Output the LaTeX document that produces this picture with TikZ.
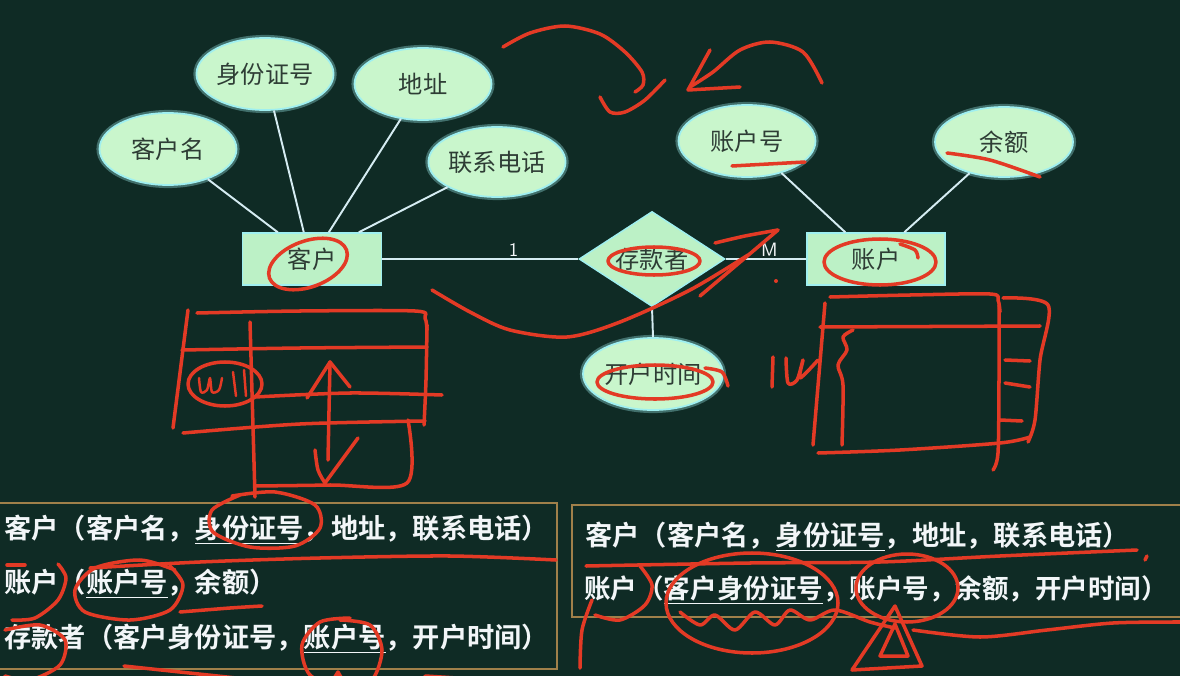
\documentclass[tikz,border=0pt]{standalone}
\usepackage{fontspec}
\usetikzlibrary{shapes.geometric,calc}
\newfontfamily\cjk{Noto Sans CJK SC}[BoldFont={Noto Sans CJK SC Bold}]
\definecolor{bgc}{HTML}{0F2B25}
\definecolor{attrfill}{HTML}{C9F6CC}
\definecolor{entfill}{HTML}{BCF1C6}
\definecolor{darktxt}{HTML}{2E3D35}
\definecolor{linec}{HTML}{D5ECF2}
\definecolor{glowc}{HTML}{9FEFF0}
\definecolor{boxc}{HTML}{A0804A}
\definecolor{scr}{HTML}{E33A25}
\definecolor{wtxt}{HTML}{F2F6F8}
\def\px{0.02cm}
\tikzset{
  attr/.style={ellipse, fill=attrfill, draw=glowc, line width=1pt,
    preaction={draw=glowc, line width=3.5pt, opacity=0.35},
    inner sep=0pt, text=darktxt, font=\cjk\fontsize{13.8pt}{16pt}\selectfont},
  ent/.style={rectangle, fill=entfill, draw=glowc, line width=0.8pt, inner sep=0pt,
    text=darktxt, font=\cjk\fontsize{13.8pt}{16pt}\selectfont},
  rel/.style={diamond, fill=entfill, draw=glowc, line width=0.8pt, inner sep=0pt,
    text=darktxt, font=\cjk\fontsize{13.8pt}{16pt}\selectfont},
  conn/.style={draw=linec, line width=1.1pt},
  card/.style={text=wtxt, font=\sffamily\fontsize{11pt}{12pt}\selectfont, inner sep=1pt},
  btxt/.style={text=wtxt, font=\cjk\bfseries\fontsize{15.5pt}{18pt}\selectfont, inner sep=0pt, anchor=west},
  relbox/.style={draw=boxc, line width=1.1pt},
  scrib/.style={draw=scr, line width=2pt, line cap=round, line join=round},
}
\begin{document}
\begin{tikzpicture}[x=0.02cm, y=-0.02cm]
\useasboundingbox (0,0) rectangle (1180,676);
\fill[bgc] (0,0) rectangle (1180,676);

% ---------------- ER diagram ----------------
\node[attr, minimum width=137*\px, minimum height=72*\px] (kname) at (168,149) {客户名};
\node[attr, minimum width=136*\px, minimum height=72*\px] (sfz) at (265,74) {身份证号};
\node[attr, minimum width=137*\px, minimum height=72*\px] (addr) at (423,84) {地址};
\node[attr, minimum width=137*\px, minimum height=70*\px] (tel) at (497,162) {联系电话};
\node[ent, minimum width=139*\px, minimum height=52*\px] (kh) at (312,259) {客户};
\node[rel, minimum width=146*\px, minimum height=92*\px] (ckz) at (652,259) {存款者};
\node[attr, minimum width=137*\px, minimum height=72*\px] (zhh) at (747,141) {账户号};
\node[attr, minimum width=138*\px, minimum height=70*\px] (ye) at (1004,142) {余额};
\node[ent, minimum width=138*\px, minimum height=52*\px] (zh) at (876,259) {账户};
\node[attr, minimum width=140*\px, minimum height=72*\px] (khsj) at (653,374) {开户时间};

\draw[conn] (kname) -- ($(kh.north west)+(36,0)$);
\draw[conn] (sfz) -- ($(kh.north west)+(62,0)$);
\draw[conn] (addr) -- ($(kh.north west)+(87,0)$);
\draw[conn] (tel) -- ($(kh.north west)+(117,0)$);
\draw[conn] (zhh) -- ($(zh.north west)+(39,0)$);
\draw[conn] (ye) -- ($(zh.north west)+(98,0)$);
\draw[conn] (kh.east) -- node[card, pos=0.67, above] {1} (ckz.west);
\draw[conn] (ckz.east) -- node[card, pos=0.54, above] {M} (zh.west);
\draw[conn] (ckz.south) -- (khsj.north);

% ---------------- relation boxes ----------------
\draw[relbox] (-2,503) rectangle (557,669);
\draw[relbox] (572,505) rectangle (1183,617);
\node[btxt] (l1) at (4,530) {客户（客户名，\underline{身份证号}，地址，联系电话）};
\node[btxt] (l2) at (4,584) {账户（\underline{账户号}，余额）};
\node[btxt] (l3) at (4,639) {存款者（客户身份证号，\underline{账户号}，开户时间）};
\node[btxt] (r1) at (585,537) {客户（客户名，\underline{身份证号}，地址，联系电话）};
\node[btxt, font=\cjk\bfseries\fontsize{15.1pt}{18pt}\selectfont] (r2) at (584,590) {账户（\underline{客户身份证号}，账户号，余额，开户时间）};

% ---------------- red hand annotations ----------------
% top arrows
\draw[scrib] plot[smooth] coordinates {(503,47) (530,33) (565,26) (600,34) (625,52) (642,72) (643,85) (635,92)};
\draw[scrib] plot[smooth] coordinates {(600,97) (610,112) (625,112) (645,100) (665,80)};
\draw[scrib] (710,50) -- (688,90) -- (740,87);
\draw[scrib] plot[smooth] coordinates {(690,87) (713,72) (740,50) (770,42) (803,52) (822,83)};
% circles on diagram
\draw[scrib, rotate around={20:(308,264)}] (308,264) ellipse [x radius=41, y radius=23];
\draw[scrib] (654,261) ellipse [x radius=46, y radius=14];
\draw[scrib] (880,262) ellipse [x radius=56, y radius=23];
\draw[scrib] plot[smooth] coordinates {(900,244) (915,250) (918,258)};
\draw[scrib] (655,382) ellipse [x radius=58, y radius=17];
\draw[scrib] plot[smooth] coordinates {(705,368) (722,372) (728,386)};
\draw[scrib] (732,166) -- (805,162);
\draw[scrib] plot[smooth] coordinates {(947,153) (990,160) (1040,177)};
\draw[scrib] plot[smooth] coordinates {(715,243) (745,236) (778,230)};
\draw[scrib] (778,230) -- (700,296);
\fill[scr] (776,281) circle [radius=2];
% swoosh
\draw[scrib] plot[smooth] coordinates {(432,290) (470,312) (510,330) (567,337) (620,322) (690,290) (748,255)};
% left table sketch
\draw[scrib] plot[smooth] coordinates {(197,313) (300,311) (415,311) (425,318) (427,330)};
\draw[scrib] plot[smooth] coordinates {(427,325) (426,380) (424,425)};
\draw[scrib] (188,310) -- (173,428);
\draw[scrib] plot[smooth] coordinates {(182,350) (300,348) (427,347)};
\draw[scrib] plot[smooth] coordinates {(255,397) (350,393) (442,395)};
\draw[scrib] plot[smooth] coordinates {(183,433) (300,424) (425,421)};
\draw[scrib] (250,322) -- (255,497);
\draw[scrib] plot[smooth] coordinates {(408,420) (407,483) (330,485) (255,486)};
\draw[scrib] (330,362) -- (328,460);
\draw[scrib] (307,398) -- (330,362) -- (350,387);
\draw[scrib] plot[smooth] coordinates {(315,450) (318,470) (325,483)} -- (358,438);
\draw[scrib] (225,384) ellipse [x radius=37, y radius=22];
\draw[scrib, line width=1.4pt] plot[smooth] coordinates {(199,378) (201,392) (207,390) (210,378) (212,392) (219,390) (222,378)};
\draw[scrib, line width=1.4pt] (233,372) -- (236,396);
\draw[scrib, line width=1.4pt] (244,370) -- (246,396);
% right table sketch
\draw[scrib] plot[smooth] coordinates {(830,297) (910,295) (990,294) (998,300) (1000,312)};
\draw[scrib] plot[smooth] coordinates {(999,305) (999,380) (998,453) (993,470)};
\draw[scrib] plot[smooth] coordinates {(1003,298) (1048,305) (1040,360) (1035,420) (1028,442)};
\draw[scrib] (820,327) -- (1040,326);
\draw[scrib] (825,303) -- (813,445);
\draw[scrib] plot[smooth] coordinates {(853,330) (843,337) (847,350) (838,365) (843,385) (842,445)};
\draw[scrib] plot[smooth] coordinates {(818,453) (900,450) (1000,443) (1030,437)};
\draw[scrib] (1005,360) -- (1030,361);
\draw[scrib] (1005,383) -- (1030,387);
\draw[scrib] (1000,420) -- (1022,421);
\draw[scrib] (773,357) -- (772,387);
\draw[scrib] plot[smooth] coordinates {(786,358) (788,383) (797,380) (803,360) (800,378) (818,360)};
% left relation box
\draw[scrib] plot[smooth] coordinates {(232,496) (275,492) (315,505) (320,528) (295,546) (250,547) (213,532) (212,510) (240,495)};
\draw[scrib] plot[smooth] coordinates {(90,568) (200,562) (320,558) (450,556) (556,560)};
\draw[scrib] (7,565) -- (25,565);
\draw[scrib] plot[smooth] coordinates {(58,564) (66,578) (58,600) (35,618) (12,620)};
\draw[scrib] plot[smooth] coordinates {(170,566) (183,585) (170,610) (130,620) (85,612) (75,590) (95,568) (140,560) (175,570)};
\draw[scrib] plot[smooth] coordinates {(180,612) (230,608) (262,606)};
\draw[scrib] plot[smooth] coordinates {(5,630) (40,625) (65,640) (60,665) (30,680) (5,676)};
\draw[scrib] plot[smooth] coordinates {(340,620) (370,625) (382,650) (372,680) (345,690) (310,675) (302,645) (320,622) (350,618)};
\draw[scrib] (338,672) -- (325,693);
\draw[scrib] (338,672) -- (350,693);
\draw[scrib] plot[smooth] coordinates {(124,666) (180,672) (255,680)};
\draw[scrib] plot[smooth] coordinates {(425,676) (480,680) (527,688)};
% right relation box
\draw[scrib] plot[smooth] coordinates {(586,566) (750,563) (880,562) (1000,556) (1137,550)};
\draw[scrib] (1147,556) -- (1145,560);
\draw[scrib] plot[smooth] coordinates {(640,566) (652,585) (645,605) (620,620) (595,615)};
\draw[scrib] plot[smooth] coordinates {(592,600) (582,630) (580,668)};
\draw[scrib] (752,603) ellipse [x radius=86, y radius=50];
\draw[scrib] plot[smooth] coordinates {(680,612) (700,625) (715,615) (735,630) (755,612) (775,625) (790,610) (810,620) (835,610) (870,622) (895,628)};
\draw[scrib] (907,588) ellipse [x radius=51, y radius=34];
\draw[scrib] (895,606) -- (922,666) -- (852,670) -- cycle;
\draw[scrib] (895,624) -- (908,656) -- (880,656) -- cycle;
\draw[scrib] plot[smooth] coordinates {(913,630) (980,637) (1047,630) (1113,623) (1180,622)};
\end{tikzpicture}
\end{document}
